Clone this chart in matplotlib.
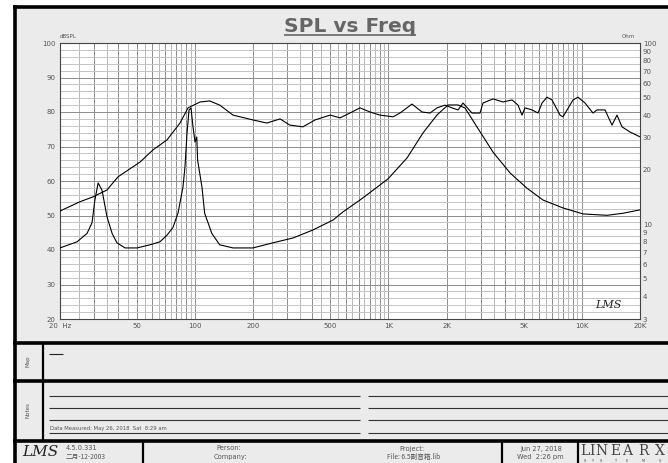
import matplotlib.pyplot as plt
from matplotlib.patches import Rectangle
from matplotlib.ticker import NullLocator

# -------------------------
# Data
# -------------------------
spl_freq = [20, 25.4, 29.6, 35, 39.9, 51.9, 60.5, 71.5, 83.5, 91.9, 106, 119, 134, 157,
            199, 235, 275, 309, 361, 417, 499, 562, 632, 712, 803, 904, 1056, 1147,
            1323, 1491, 1640, 1783, 1960, 2131, 2290, 2430, 2704, 2975, 3082, 3474,
            3912, 4356, 4678, 4905, 5085, 5527, 5936, 6226, 6607, 7013, 7714, 7994,
            9006, 9559, 10390, 11426, 11984, 13185, 14330, 15207, 16140, 17756, 20000]
spl_db = [51.3, 54.0, 55.4, 57.4, 61.2, 65.5, 69.0, 71.9, 76.8, 81.2, 82.9, 83.2, 82.0, 79.1,
          77.7, 76.8, 78.0, 76.2, 75.7, 77.7, 79.1, 78.3, 79.7, 81.2, 80.0, 79.1, 78.6, 79.7,
          82.3, 80.0, 79.7, 81.2, 82.0, 81.2, 80.6, 82.6, 79.7, 79.7, 82.6, 83.8,
          82.9, 83.5, 82.0, 79.1, 81.2, 80.6, 79.7, 82.6, 84.3, 83.5, 79.1, 78.6,
          83.5, 84.3, 82.6, 79.7, 80.6, 80.6, 76.2, 79.1, 75.7, 74.2, 72.8]

imp_freq = [20, 24.5, 27.6, 29.3, 30.3, 31.5, 33, 35, 37.2, 39.4, 43.4, 50, 58.4, 65.8,
            71.5, 76.8, 81.5, 86.5, 88.6, 90.8, 93, 95.2, 97.5, 99.9, 102, 103, 108.5,
            112, 122, 134, 157, 199, 253, 321, 407, 517, 582, 712, 832, 995, 1247, 1509,
            1783, 2032, 2290, 2488, 2871, 3474, 4252, 5206, 6301, 7994, 10146, 13500,
            16340, 20000]
imp_ohm = [7.4, 8.0, 8.9, 10.2, 13.6, 16.9, 15.4, 11.0, 8.9, 7.9, 7.4, 7.4, 7.7, 8.0,
           8.7, 9.6, 11.5, 16.0, 20.7, 31.9, 42.7, 43.8, 34.4, 28.4, 30.3, 22.6, 16.0,
           11.5, 8.9, 7.7, 7.4, 7.4, 7.9, 8.4, 9.3, 10.55, 11.7, 13.6, 15.4, 17.8, 23.2, 31.9,
           40.1, 45.5, 45.5, 43.8, 34.4, 25.0, 19.2, 15.8, 13.6, 12.3, 11.4, 11.2,
           11.5, 12.0]

x_ticks = [20, 50, 100, 200, 500, 1000, 2000, 5000, 10000, 20000]
x_labels = ["20  Hz", "50", "100", "200", "500", "1K", "2K", "5K", "10K", "20K"]
db_ticks = [20, 30, 40, 50, 60, 70, 80, 90, 100]
ohm_ticks = [3, 4, 5, 6, 7, 8, 9, 10, 20, 30, 40, 50, 60, 70, 80, 90, 100]

W, H = 668, 463
TXT = "#555555"
CJK = ["Noto Sans CJK SC", "DejaVu Sans"]

fig = plt.figure(figsize=(W / 100, H / 100), dpi=100)
fig.patch.set_facecolor("white")

# -------------------------
# Page frame (pixel coords)
# -------------------------
bg = fig.add_axes([0, 0, 1, 1], zorder=0)
bg.set_xlim(0, W)
bg.set_ylim(H, 0)
bg.axis("off")
bg.add_patch(Rectangle((14, 6), W, H, facecolor="#ebebeb", edgecolor="none"))


def seg(x0, y0, x1, y1, lw=2.2, color="black"):
    bg.plot([x0, x1], [y0, y1], color=color, lw=lw, solid_capstyle="butt")


seg(14.5, 5, 14.5, H, lw=2.6)
seg(13, 6.5, W, 6.5, lw=2.6)
for y in [343, 380.5, 440.5]:
    seg(13, y, W, y, lw=2.6)
seg(43, 343, 43, 440, lw=1.6)
for x in [143, 502, 578]:
    seg(x, 440, x, H, lw=1.6)

bg.text(28, 361, "Map", rotation=90, fontsize=4, color=TXT, ha="center", va="center")
bg.text(28, 410, "Notes", rotation=90, fontsize=4, color=TXT, ha="center", va="center")
seg(49, 354, 63, 354, lw=0.8, color="#222222")
for y in [396, 408, 420, 433]:
    seg(49, y, 360, y, lw=0.8, color="#333333")
    seg(368, y, W, y, lw=0.8, color="#333333")
bg.text(50, 431, "Data Measured: May 26, 2018  Sat  8:29 am", fontsize=3.8,
        color=TXT, ha="left", va="bottom")

# bottom strip
bg.text(22, 452, "LMS", fontsize=11, style="italic", family="DejaVu Serif",
        color="#222222", ha="left", va="center")
bg.text(66, 448.5, "4.5.0.331", fontsize=4.8, color=TXT, ha="left", va="center")
bg.text(66, 456.5, "二月-12-2003", fontsize=4.8, color=TXT, ha="left", va="center",
        family=CJK)
bg.text(229, 448.5, "Person:", fontsize=4.8, color=TXT, ha="center", va="center")
bg.text(230, 456.5, "Company:", fontsize=4.8, color=TXT, ha="center", va="center")
bg.text(412, 448.5, "Project:", fontsize=4.8, color=TXT, ha="center", va="center")
bg.text(414, 456.5, "File: 6.5副音箱.lib", fontsize=4.8, color=TXT, ha="center",
        va="center", family=CJK)
bg.text(541, 448.5, "Jun 27, 2018", fontsize=4.8, color=TXT, ha="center", va="center")
bg.text(540, 456.5, "Wed  2:26 pm", fontsize=4.8, color=TXT, ha="center", va="center")
logo_x = [585, 592, 601, 615, 627, 643, 660]
for cx, ch in zip(logo_x, "LINEARX"):
    bg.text(cx, 451, ch, fontsize=10, family="DejaVu Serif",
            color="#444444", ha="center", va="center")
for cx, ch in zip(logo_x, "SYSTEMS"):
    bg.text(cx, 460.5, ch, fontsize=2.5, color="#444444",
            ha="center", va="center")

# title
bg.text(350, 26, "SPL vs Freq", fontsize=14.5, fontweight="bold", color="#666666",
        ha="center", va="center")
seg(284, 34.5, 416, 34.5, lw=1.2, color="#666666")
bg.text(60, 37, "dBSPL", fontsize=4, color=TXT, ha="left", va="center")
bg.text(622, 37, "Ohm", fontsize=4, color=TXT, ha="left", va="center")

# -------------------------
# Chart
# -------------------------
ax = fig.add_axes([60 / W, 1 - 319 / H, 580 / W, 276 / H], zorder=2)
ax.set_facecolor("white")
ax.set_xscale("log")
ax.set_xlim(20, 20000)
ax.set_ylim(20, 100)

# log grid: solid at 2..10, lighter at half steps
for dec in [10, 100, 1000, 10000]:
    for k in range(4, 21):
        f = dec * k / 2
        if f < 20 or f > 20000:
            continue
        dark = k % 2 == 0
        ax.axvline(f, color="#8c8c8c" if dark else "#b8b8b8", lw=0.7, zorder=1)
for v in range(20, 101, 2):
    ax.axhline(v, color="#8c8c8c" if v % 10 == 0 else "#c4c4c4", lw=0.7, zorder=1)

ax.plot(spl_freq, spl_db, color="black", lw=0.8, zorder=3)

ax.set_xticks(x_ticks, x_labels)
ax.xaxis.set_minor_locator(NullLocator())
ax.set_yticks(db_ticks)
ax.tick_params(length=0, labelsize=5, colors=TXT, pad=3)
for s in ax.spines.values():
    s.set_color("#444444")
    s.set_linewidth(0.8)

ax2 = ax.twinx()
ax2.set_yscale("log")
ax2.set_ylim(3, 100)
ax2.plot(imp_freq, imp_ohm, color="black", lw=0.8, zorder=3)
ax2.set_yticks(ohm_ticks, [str(t) for t in ohm_ticks])
ax2.yaxis.set_minor_locator(NullLocator())
ax2.tick_params(length=0, labelsize=5, colors=TXT, pad=2)
for s in ax2.spines.values():
    s.set_visible(False)

ax.text(0.945, 0.05, "LMS", transform=ax.transAxes, fontsize=8, style="italic",
        family="DejaVu Serif", color="#222222", ha="center", va="center", zorder=4)

fig.savefig("out.png", dpi=100, facecolor=fig.get_facecolor())
